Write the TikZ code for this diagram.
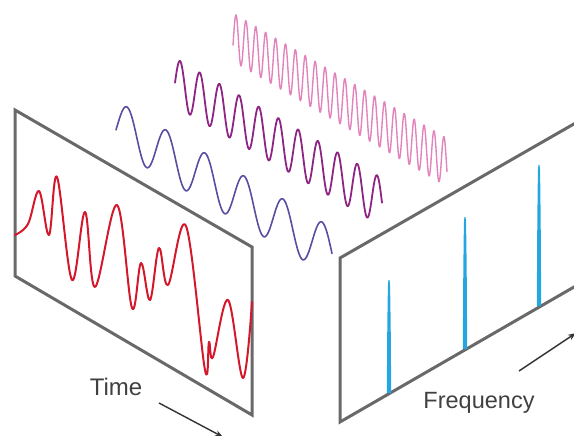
\documentclass[tikz,border=0pt]{standalone}
\usepackage{fontspec}
\setmainfont{Liberation Sans}
\usetikzlibrary{arrows.meta}
\definecolor{panelgray}{RGB}{105,105,105}
\definecolor{wavered}{RGB}{212,24,44}
\definecolor{waveblue}{RGB}{88,78,160}
\definecolor{wavepurple}{RGB}{142,36,132}
\definecolor{wavepink}{RGB}{226,132,188}
\definecolor{spikeblue}{RGB}{38,166,224}
\definecolor{labelgray}{RGB}{64,64,64}
\tikzset{
  panel/.style={draw=panelgray, line width=3pt, line join=miter},
  wave/.style={line width=1.8pt, line cap=round, line join=round},
  spike/.style={fill=spikeblue, draw=none},
  axisarrow/.style={draw=black!80, line width=1.4pt, -{Stealth[length=8pt,width=6pt]}},
  axislabel/.style={text=labelgray, anchor=base, inner sep=0pt},
}
\begin{document}
\begin{tikzpicture}[x=1pt, y=-1pt]
\useasboundingbox (0,0) rectangle (574,436);
\clip (0,0) rectangle (574,436);
% sine components
\draw[wave, waveblue, line width=1.6pt] plot[domain=116:332, samples=300, smooth] (\x, {131.5+0.59*(\x-127) - 24.5*cos((\x-127)/39*360)});
\draw[wave, wavepurple, line width=1.8pt] plot[domain=175:382, samples=400, smooth] (\x, {85+0.58*(\x-180) - 24*cos((\x-180)/19.7*360)});
\draw[wave, wavepink, line width=1.4pt] plot[domain=233:447, samples=900, smooth] (\x, {39+0.585*(\x-236) - 24*cos((\x-236)/9.9*360)});
% time panel
\coordinate (tl) at (15,110);
\coordinate (tr) at (252,247);
\coordinate (br) at (252,415);
\coordinate (bl) at (15,276);
\draw[panel] (tl) -- (tr) -- (br) -- (bl) -- cycle;
\draw[wave, wavered, line width=2pt] plot[smooth, tension=0.6] coordinates {
 (15,235) (28,224) (39,191) (49,235) (57,177) (72,280) (85,212) (95,287)
 (117,205) (132,308) (141,263) (150,300) (159,248) (168,285) (186,226)
 (205,370) (209,342) (213,357) (228,300) (243,378) (252,302)};
% frequency panel
\coordinate (fl) at (340,258);
\coordinate (fbl) at (340,422);
\coordinate (ftr) at (600,109);
\coordinate (fbr) at (600,272);
\draw[panel] (ftr) -- (fl) -- (fbl) -- (fbr);
% spikes
\foreach \sx/\st/\sb in {389/280/393, 465/217/349, 539/165/306}{
  \fill[spike] (\sx-2.2,\sb) -- (\sx-1.7,{\st+0.4*(\sb-\st)}) -- (\sx-1.1,\st+6) -- (\sx-0.6,\st) -- (\sx+0.6,\st) -- (\sx+1.1,\st+6) -- (\sx+1.7,{\st+0.4*(\sb-\st)}) -- (\sx+2.2,\sb) -- cycle;
}
% axis arrows and labels
\coordinate (ta) at (159,403);
\coordinate (tb) at (223,437);
\draw[axisarrow] (ta) -- (tb);
\coordinate (fa) at (519,371);
\coordinate (fb) at (576,333);
\draw[axisarrow] (fa) -- (fb);
\node[axislabel, font=\fontsize{24}{27}\selectfont] (time) at (116,395) {Time};
\node[axislabel, font=\fontsize{23.5}{27}\selectfont] (freq) at (479,408) {Frequency};
\end{tikzpicture}
\end{document}
